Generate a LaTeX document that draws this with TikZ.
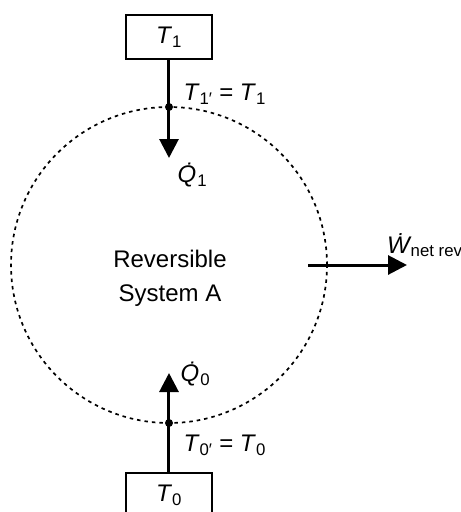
\documentclass[tikz,border=0pt]{standalone}
\usepackage{fontspec}
\setmainfont{Liberation Sans}
\usetikzlibrary{arrows.meta}

\begin{document}
\begin{tikzpicture}[x=10pt,y=10pt,>={Triangle[length=19pt,width=19pt]},
  font=\fontsize{24}{34}\selectfont]

\useasboundingbox (-16.9,-24.7) rectangle (29.2,26.5);

% Boundary of the system
\draw[line width=1.7pt, dash pattern=on 3.5pt off 4pt] (0,0) circle (15.8);

% Reservoirs
\tikzset{reservoir/.style={draw, line width=2.6pt, minimum width=86pt, minimum height=44pt, inner sep=0pt}}
\node[reservoir] (hot) at (0,22.8) {\textit{T}\textsubscript{1}};
\node[reservoir] (cold) at (0,-23.0) {\textit{T}\textsubscript{0}};

% Boundary points
\node[circle, fill, inner sep=0pt, minimum size=8pt] (b1) at (0,15.8) {};
\node[circle, fill, inner sep=0pt, minimum size=8pt] (b0) at (0,-15.8) {};
\coordinate (q1) at (0,10.7);
\coordinate (q0) at (0,-10.8);

% Heat flows
\draw[line width=3pt, ->] (hot.south) -- (b1.center) -- (q1);
\draw[line width=3pt, ->] (cold.north) -- (b0.center) -- (q0);

% Labels for the heat flows
\node[right] (lq1) at (0.5,9.0) {\textit{\.{Q}}\textsubscript{1}};
\node[right] (lq0) at (0.8,-10.9) {\textit{\.{Q}}\textsubscript{0}};
\node[right] (lt1) at (1.1,17.1) {\textit{T}\textsubscript{1′} = \textit{T}\textsubscript{1}};
\node[right] (lt0) at (1.1,-18.0) {\textit{T}\textsubscript{0′} = \textit{T}\textsubscript{0}};

% Work output
\coordinate (w0) at (13.9,0);
\coordinate (w1) at (23.8,0);
\draw[line width=3pt, ->] (w0) -- (w1);
\node[right, inner sep=0pt] (lw) at (21.8,2.0) {\textit{\.{W}}\textsubscript{\kern-1pt net rev}};

% System
\node[align=center] (sys) at (0.1,-1.3) {Reversible\\System A};

\end{tikzpicture}
\end{document}
